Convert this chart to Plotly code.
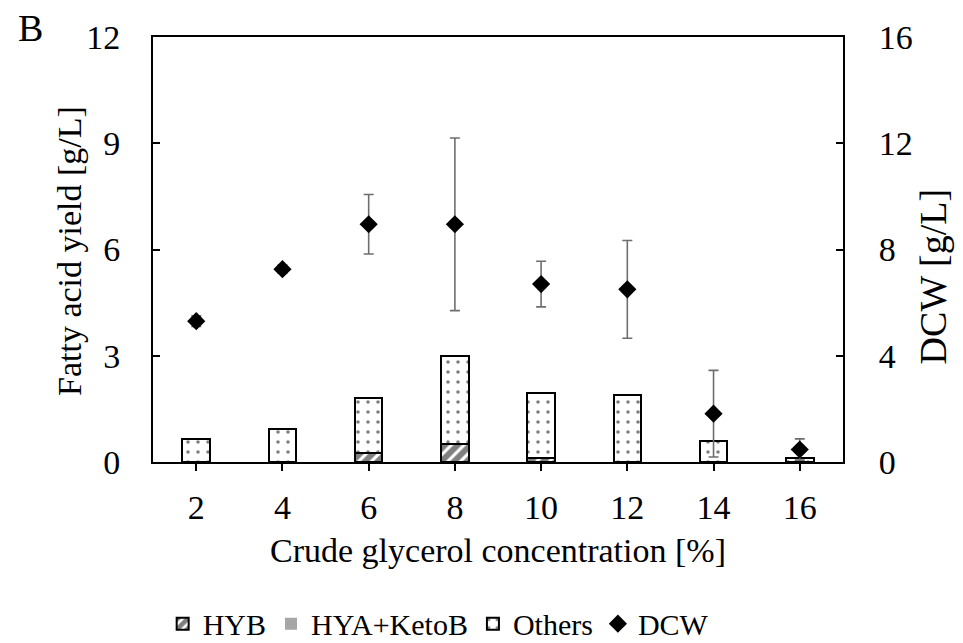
import plotly.graph_objects as go

concentrations = ["2", "4", "6", "8", "10", "12", "14", "16"]
hyb = [0, 0, 0.25, 0.50, 0.12, 0, 0, 0]
hya_ketob = [0, 0, 0, 0, 0, 0, 0, 0]
others = [0.64, 0.94, 1.56, 2.49, 1.83, 1.89, 0.59, 0.11]
dcw = [5.30, 7.26, 8.95, 8.95, 6.70, 6.50, 1.82, 0.47]
dcw_err = [0.2, 0.15, 1.12, 3.25, 0.86, 1.84, 1.63, 0.40]

FONT = "Liberation Serif"
FS = 34
BW = 0.32

fig = go.Figure()
fig.add_trace(go.Bar(
    x=concentrations, y=hyb, name="HYB", width=BW,
    marker=dict(color="white", line=dict(color="black", width=2),
                pattern=dict(shape="/", fgcolor="black", bgcolor="white", size=9, solidity=0.65)),
))
fig.add_trace(go.Bar(
    x=concentrations, y=hya_ketob, name="HYA+KetoB", width=BW,
    marker=dict(color="#a6a6a6", line=dict(color="#a6a6a6", width=0)),
))
fig.add_trace(go.Bar(
    x=concentrations, y=others, name="Others", width=BW,
    marker=dict(color="white", line=dict(color="black", width=2),
                pattern=dict(shape=".", fgcolor="black", bgcolor="white", size=10, solidity=0.1)),
))
fig.add_trace(go.Scatter(
    x=concentrations, y=dcw, name="DCW", yaxis="y2", mode="markers",
    marker=dict(symbol="diamond", color="black", size=14),
    error_y=dict(type="data", array=dcw_err, visible=True, color="#6e6e6e", thickness=1.6, width=5),
))

fig.update_layout(
    width=963, height=643,
    margin=dict(l=153, r=120, t=37, b=181),
    paper_bgcolor="white", plot_bgcolor="white",
    barmode="stack",
    font=dict(family=FONT, size=FS, color="black"),
    showlegend=True,
    legend=dict(orientation="h", xref="container", yref="container",
                x=0.455, xanchor="center", y=0.03, yanchor="middle",
                font=dict(family=FONT, size=30), traceorder="normal", itemwidth=30),
    xaxis=dict(
        type="category", showline=True, linecolor="black", linewidth=2, mirror=True,
        ticks="outside", ticklen=7, tickcolor="black", tickwidth=1.5, automargin=False,
        showgrid=False, zeroline=False, ticklabelstandoff=7,
        title=dict(text="Crude glycerol concentration [%]", standoff=13, font=dict(size=FS)),
    ),
    yaxis=dict(
        range=[0, 12], tickvals=[0, 3, 6, 9, 12], showline=True, linecolor="black", linewidth=2,
        ticks="inside", ticklen=7, tickcolor="black", tickwidth=1.5, automargin=False,
        showgrid=False, zeroline=False, ticklabelstandoff=24,
    ),
    yaxis2=dict(
        range=[0, 16], tickvals=[0, 4, 8, 12, 16], overlaying="y", side="right",
        showline=True, linecolor="black", linewidth=2, automargin=False,
        ticks="inside", ticklen=7, tickcolor="black", tickwidth=1.5,
        showgrid=False, zeroline=False, ticklabelstandoff=27,
    ),
)

fig.add_annotation(text="Fatty acid yield [g/L]", xref="paper", yref="paper", x=-0.1203, y=0.4965,
                   xanchor="center", yanchor="middle", textangle=-90, showarrow=False,
                   font=dict(family=FONT, size=FS, color="black"))
fig.add_annotation(text="DCW [g/L]", xref="paper", yref="paper", x=1.131, y=0.4376,
                   xanchor="center", yanchor="middle", textangle=-90, showarrow=False,
                   font=dict(family=FONT, size=38, color="black"))
fig.add_annotation(text="B", xref="paper", yref="paper", x=-0.177, y=1.021,
                   xanchor="center", yanchor="middle", showarrow=False,
                   font=dict(family=FONT, size=38, color="black"))

fig.write_html("out.html")
